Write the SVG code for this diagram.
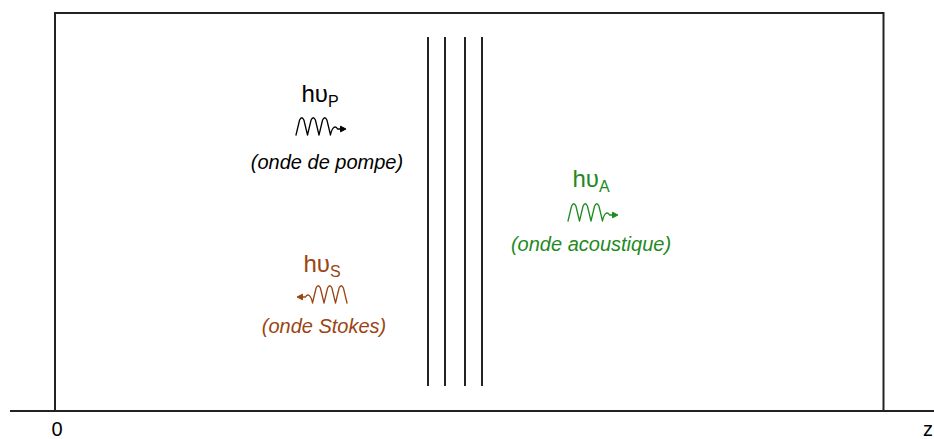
<svg xmlns="http://www.w3.org/2000/svg" width="934" height="439" viewBox="0 0 934 439">
<style>
.ln{fill:none;stroke:#222;stroke-width:2}
.lab{font-family:"Liberation Sans",Arial,sans-serif;font-size:24px;text-anchor:middle}
.sub{font-size:16px}
.it{font-family:"Liberation Sans",Arial,sans-serif;font-size:20px;font-style:italic;text-anchor:middle}
.wave{fill:none;stroke-width:1.3;stroke-linecap:round;stroke-linejoin:round}
.blk{fill:#000;stroke:#000}
.grn{fill:#1f8a1f;stroke:#1f8a1f}
.brn{fill:#9a4512;stroke:#9a4512}
</style>
<defs>
<path id="wv" d="M0,0 L3.6,-15 Q5.75,-19.5 7.9,-15 L11.5,0 L15.1,-15 Q17.25,-19.5 19.4,-15 L23,0 L26.6,-15 Q28.75,-19.5 30.9,-15 L34.5,0 C36,-8 39.5,-10 41.5,-6 L46,-6"/>
</defs>
<rect width="934" height="439" fill="#fff"/>
<g id="frame">
<path class="ln" d="M55,411 V13 H883.5 V411"/>
<path class="ln" d="M10,411 H934" stroke-width="2.4"/>
<text class="lab" x="57" y="436" fill="#000" style="font-size:20px">0</text>
<text class="lab" x="933" y="436" fill="#000" style="font-size:20px;text-anchor:end">z</text>
</g>
<g id="planes" class="ln" stroke="#333">
<line x1="428" y1="37" x2="428" y2="386"/>
<line x1="445" y1="37" x2="445" y2="386"/>
<line x1="465" y1="37" x2="465" y2="386"/>
<line x1="482" y1="37" x2="482" y2="386"/>
</g>
<g id="pompe">
<text class="lab" x="320" y="102" fill="#000">hυ<tspan class="sub" dy="5">P</tspan></text>
<use href="#wv" class="wave blk" style="fill:none" transform="translate(296,135)"/>
<path class="blk" stroke="none" d="M346,129 L340.5,126.2 L340.5,131.8 Z"/>
<text class="it" x="327" y="169" fill="#000">(onde de pompe)</text>
</g>
<g id="acoustique">
<text class="lab" x="591" y="187" fill="#1f8a1f">hυ<tspan class="sub" dy="5">A</tspan></text>
<use href="#wv" class="wave grn" style="fill:none" transform="translate(568,221)"/>
<path class="grn" stroke="none" d="M618,215 L612.5,212.2 L612.5,217.8 Z"/>
<text class="it" x="591" y="251" fill="#1f8a1f">(onde acoustique)</text>
</g>
<g id="stokes">
<text class="lab" x="322" y="272" fill="#9a4512">hυ<tspan class="sub" dy="5">S</tspan></text>
<use href="#wv" class="wave brn" style="fill:none" transform="translate(347,303) scale(-1,1)"/>
<path class="brn" stroke="none" d="M297,297 L302.5,294.2 L302.5,299.8 Z"/>
<text class="it" x="324" y="333" fill="#9a4512">(onde Stokes)</text>
</g>
</svg>
